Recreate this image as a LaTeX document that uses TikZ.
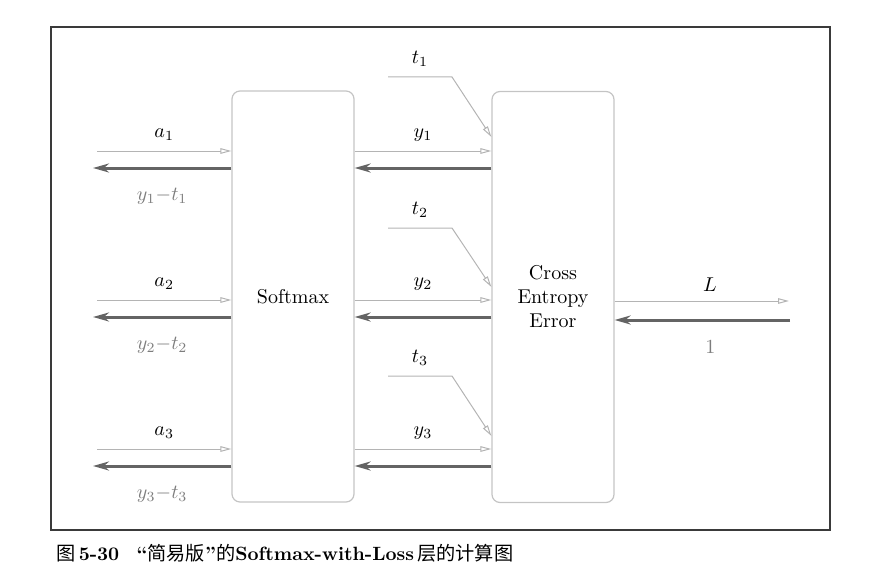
\documentclass[tikz,border=0pt]{standalone}
\usepackage{fontspec}
\usepackage{xcolor}
\usepackage{tikz}
\usetikzlibrary{arrows.meta, positioning}
\newfontfamily\cjk{Noto Sans CJK SC}
\definecolor{framegray}{RGB}{58, 58, 58}
\definecolor{boxgray}{RGB}{196, 196, 196}
\definecolor{fwdgray}{RGB}{180, 180, 180}
\definecolor{bwdgray}{RGB}{100, 100, 100}
\definecolor{gradgray}{RGB}{125, 125, 125}

\begin{document}
\begin{tikzpicture}[
  x=0.5pt, y=-0.5pt,
  layer/.style={draw=boxgray, line width=0.6pt, rounded corners=4pt, minimum width=61pt, minimum height=205.5pt, align=center, font=\normalsize},
  fwd/.style={draw=fwdgray, line width=0.5pt, -{Triangle[open, length=5.5pt, width=2.8pt]}},
  bwd/.style={draw=bwdgray, line width=1.5pt, -{Stealth[length=8pt, width=4.5pt]}},
  grad/.style={text=gradgray, below=6pt}
]
  \useasboundingbox (0,0) rectangle (877,583);
  \draw[framegray, line width=0.75pt] (51,27) rectangle (830,530);

  \node[layer] (softmax) at (293,296.5) {Softmax};
  \node[layer] (cee) at (553,297) {Cross\\Entropy\\Error};

  % free ends on the left and right
  \coordinate (in1) at (97,151);   \coordinate (out1) at (93,168);
  \coordinate (in2) at (97,300);   \coordinate (out2) at (93,317);
  \coordinate (in3) at (97,449);   \coordinate (out3) at (93,466);
  \coordinate (loss) at (789,301); \coordinate (dout) at (790,320);

  % teacher labels
  \coordinate (t1a) at (388,77);   \coordinate (t1b) at (452,77);
  \coordinate (t2a) at (388,228);  \coordinate (t2b) at (452,228);
  \coordinate (t3a) at (388,376);  \coordinate (t3b) at (452,376);

  % left side
  \draw[fwd] (in1) -- node[above=1.5pt] {$a_1$} (softmax.west |- in1);
  \draw[bwd] (softmax.west |- out1) -- node[grad] {$y_1{-}t_1$} (out1);
  \draw[fwd] (in2) -- node[above=1.5pt] {$a_2$} (softmax.west |- in2);
  \draw[bwd] (softmax.west |- out2) -- node[grad] {$y_2{-}t_2$} (out2);
  \draw[fwd] (in3) -- node[above=1.5pt] {$a_3$} (softmax.west |- in3);
  \draw[bwd] (softmax.west |- out3) -- node[grad] {$y_3{-}t_3$} (out3);

  % between the layers
  \draw[fwd] (softmax.east |- in1) -- node[above=1pt] {$y_1$} (cee.west |- in1);
  \draw[bwd] (cee.west |- out1) -- (softmax.east |- out1);
  \draw[fwd] (softmax.east |- in2) -- node[above=1pt] {$y_2$} (cee.west |- in2);
  \draw[bwd] (cee.west |- out2) -- (softmax.east |- out2);
  \draw[fwd] (softmax.east |- in3) -- node[above=1pt] {$y_3$} (cee.west |- in3);
  \draw[bwd] (cee.west |- out3) -- (softmax.east |- out3);

  \draw[fwd] (t1a) -- node[above=1.5pt] {$t_1$} (t1b) -- ([yshift=7pt]cee.west |- in1);
  \draw[fwd] (t2a) -- node[above=1.5pt] {$t_2$} (t2b) -- ([yshift=6.5pt]cee.west |- in2);
  \draw[fwd] (t3a) -- node[above=1.5pt] {$t_3$} (t3b) -- ([yshift=6.5pt]cee.west |- in3);

  % right side
  \draw[fwd] (cee.east |- loss) -- node[above=1pt, xshift=4pt] {$L$} (loss);
  \draw[bwd] (dout) -- node[grad, xshift=4pt] {1} (cee.east |- dout);

  \node[anchor=west, font=\fontsize{9.6}{11}\selectfont, inner sep=0pt] (caption) at (56,553)
    {{\cjk 图}\,\textbf{5-30}\hspace{0.9em}\textbf{“}{\cjk 简易版}\textbf{”}{\cjk 的}\textbf{Softmax-with-Loss}\,{\cjk 层的计算图}};
\end{tikzpicture}
\end{document}
